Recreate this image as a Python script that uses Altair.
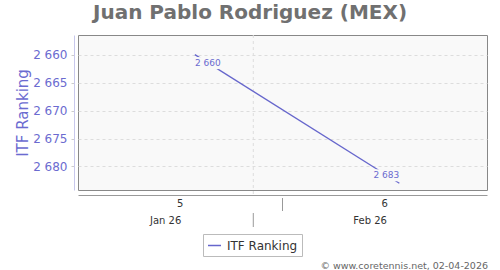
import altair as alt
import pandas as pd

# ---- data ----
dates = ["2026-01-30", "2026-02-06"]
ranks = [2660, 2683]
series_name = "ITF Ranking"

week_labels = ["5", "6"]
week_centers = ["2026-01-29T12:00:00Z", "2026-02-05T12:00:00Z"]
week_bounds = ["2026-02-02"]
month_labels = ["Jan 26", "Feb 26"]
month_centers = ["2026-01-29", "2026-02-05"]
month_bounds = ["2026-02-01"]

y_ticks = [2660, 2665, 2670, 2675, 2680]
x_domain = ["2026-01-26", "2026-02-09"]
y_domain = [2656.5, 2684.2]

title_text = "Juan Pablo Rodriguez (MEX)"
credit_text = "\u00a9 www.coretennis.net, 02-04-2026"

# ---- styles ----
PURPLE = "#6b6bd0"
LINE = "#6666cc"
BG = "#f9f9f9"
FONT = "DejaVu Sans"
fmt_expr = "replace(format({v}, ','), ',', ' ')"


def dt(s):
    t = pd.Timestamp(s)
    return alt.DateTime(year=t.year, month=t.month, date=t.day, utc=True)


x_scale = alt.Scale(type="utc", domain=[dt(x_domain[0]), dt(x_domain[1])])
x_axis = alt.Axis(offset=5, domainColor="#999999", domainWidth=1, ticks=False,
                  labels=False, grid=False, title=None)
y_scale = alt.Scale(domain=y_domain, reverse=True, nice=False, zero=False)
y_axis = alt.Axis(values=y_ticks, offset=4, domainColor="#c8c8ec", tickSize=3,
                  tickColor="#cccccc", labelColor=PURPLE, labelFontSize=12,
                  labelFont=FONT, labelPadding=4,
                  labelExpr=fmt_expr.format(v="datum.value"),
                  grid=True, gridColor="#dddddd", gridDash=[3, 3],
                  title=series_name, titleColor=PURPLE, titleFontSize=15,
                  titleFont=FONT, titleFontWeight="normal", titlePadding=2)

line_df = pd.DataFrame({"date": dates, "rank": ranks, "series": [series_name] * len(dates)})


def X(field):
    return alt.X(field, type="temporal", scale=x_scale, axis=x_axis)


Y = alt.Y("rank:Q", scale=y_scale, axis=y_axis)

# vertical month-boundary grid line
grid_rule = alt.Chart(pd.DataFrame({"d": month_bounds})).mark_rule(
    color="#dddddd", strokeDash=[3, 3]
).encode(x=X("d"), y=alt.value(0), y2=alt.value(160))

line = alt.Chart(line_df).mark_line(strokeWidth=1.3).encode(
    x=X("date"), y=Y,
    color=alt.Color("series:N",
                    scale=alt.Scale(domain=[series_name], range=[LINE]),
                    legend=alt.Legend(orient="none", legendX=125, legendY=199,
                                      title=None, strokeColor="#bbbbbb",
                                      fillColor="#ffffff", padding=4,
                                      symbolType="stroke", symbolSize=169,
                                      symbolStrokeWidth=1.5, labelFontSize=12,
                                      labelFont=FONT, labelColor="#333333",
                                      labelOffset=5)),
)


def point_label(df, dx, dy):
    base = alt.Chart(df).transform_calculate(lbl=fmt_expr.format(v="datum.rank"))
    box = base.mark_rect(width=26, height=12, xOffset=dx, yOffset=dy, color=BG).encode(
        x=X("date"), y=Y)
    txt = base.mark_text(dx=dx, dy=dy, fontSize=9, font=FONT, color=PURPLE,
                         align="center", baseline="middle").encode(
        x=X("date"), y=Y, text="lbl:N")
    return [box, txt]


labels_first = point_label(line_df.iloc[[0]], 13, 8.5)
labels_last = point_label(line_df.iloc[[-1]], -13, -8)

week_text = alt.Chart(pd.DataFrame({"d": week_centers, "l": week_labels})).mark_text(
    fontSize=10, font=FONT, color="#333333", baseline="middle"
).encode(x=X("d"), y=alt.value(169), text="l:N")
week_sep = alt.Chart(pd.DataFrame({"d": week_bounds})).mark_rule(color="#999999").encode(
    x=X("d"), y=alt.value(163), y2=alt.value(176))

month_text = alt.Chart(pd.DataFrame({"d": month_centers, "l": month_labels})).mark_text(
    fontSize=10, font=FONT, color="#333333", baseline="middle"
).encode(x=X("d"), y=alt.value(185.5), text="l:N")
month_sep = alt.Chart(pd.DataFrame({"d": month_bounds})).mark_rule(color="#999999").encode(
    x=X("d"), y=alt.value(178), y2=alt.value(192))

credit = alt.Chart(pd.DataFrame({"t": [credit_text]})).mark_text(
    align="right", baseline="middle", fontSize=9.5, font=FONT, color="#666666"
).encode(x=alt.value(410), y=alt.value(230.5), text="t:N")

chart = alt.layer(
    grid_rule, line, *labels_first, *labels_last,
    week_text, week_sep, month_text, month_sep, credit,
).properties(
    width=409, height=155,
    title=alt.TitleParams(title_text, fontSize=20, font=FONT, fontWeight="bold",
                          color="#707070", anchor="middle", dx=-32.5, offset=12),
    autosize=alt.AutoSizeParams(type="none"),
    padding={"left": 78, "top": 35, "right": 13, "bottom": 80},
).configure_view(fill=BG, stroke="#888888")

chart.save("out.html", embed_options={"renderer": "svg", "actions": False})
